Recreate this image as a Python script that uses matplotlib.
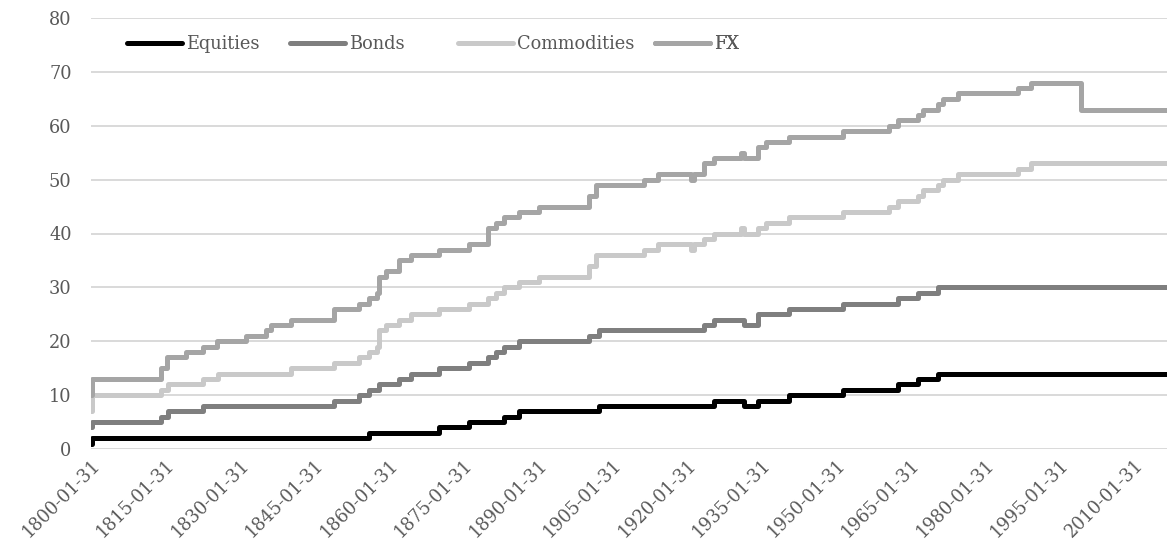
import matplotlib
matplotlib.use("Agg")
import matplotlib.pyplot as plt

plt.rcParams['font.family'] = ['DejaVu Serif']

# ---- data (fractional years of each change, value from that date on) ----
END_YEAR = 2016.9

equities_years = [1800.0, 1800.2, 1856.0, 1870.1, 1876.1, 1883.1, 1886.2, 1902.2,
                  1925.4, 1931.5, 1934.3, 1940.5, 1951.4, 1962.5, 1966.5, 1970.5]
equities_vals = [1, 2, 3, 4, 5, 6, 7, 8, 9, 8, 9, 10, 11, 12, 13, 14]

bonds_years = [1800.0, 1800.2, 1814.1, 1815.5, 1822.55, 1848.9, 1854.0, 1856.0, 1858.0,
               1862.0, 1864.4, 1870.1, 1876.1, 1879.9, 1881.5, 1883.1, 1886.2, 1900.3,
               1902.2, 1923.4, 1925.4, 1931.5, 1934.3, 1940.5, 1951.4, 1962.5, 1966.5,
               1970.5]
bonds_vals = [4, 5, 6, 7, 8, 9, 10, 11, 12, 13, 14, 15, 16, 17, 18, 19, 20, 21,
              22, 23, 24, 23, 25, 26, 27, 28, 29, 30]

commodities_years = [1800.0, 1800.2, 1814.1, 1815.5, 1822.55, 1825.6, 1840.3, 1848.9,
                     1854.0, 1856.0, 1857.5, 1858.0, 1859.4, 1862.0, 1864.4, 1870.1,
                     1876.1, 1879.9, 1881.5, 1883.1, 1886.2, 1890.2, 1900.3, 1901.7,
                     1911.3, 1914.2, 1920.8, 1921.4, 1923.4, 1925.4, 1930.9, 1931.5,
                     1934.3, 1935.9, 1940.5, 1951.4, 1960.7, 1962.5, 1966.5, 1967.5,
                     1970.5, 1971.5, 1974.6, 1986.6, 1989.3]
commodities_vals = [7, 10, 11, 12, 13, 14, 15, 16,
                    17, 18, 19, 22, 23, 24, 25, 26,
                    27, 28, 29, 30, 31, 32, 34, 36,
                    37, 38, 37, 38, 39, 40, 41, 40,
                    41, 42, 43, 44, 45, 46, 47, 48,
                    49, 50, 51, 52, 53]

fx_years = [1800.0, 1800.2, 1814.1, 1815.3, 1819.1, 1822.55, 1825.4, 1831.2, 1835.2,
            1836.2, 1840.3, 1848.9, 1854.0, 1856.0, 1857.5, 1858.0, 1859.4, 1862.0,
            1864.4, 1870.1, 1876.1, 1879.9, 1881.5, 1883.1, 1886.2, 1890.2, 1900.3,
            1901.7, 1911.3, 1914.2, 1920.8, 1921.4, 1923.4, 1925.4, 1930.9, 1931.5,
            1934.3, 1935.9, 1940.5, 1951.4, 1960.7, 1962.5, 1966.5, 1967.5, 1970.5,
            1971.5, 1974.6, 1986.6, 1989.3, 1999.3]
fx_vals = [10, 13, 15, 17, 18, 19, 20, 21, 22,
           23, 24, 26, 27, 28, 29, 32, 33, 35,
           36, 37, 38, 41, 42, 43, 44, 45, 47,
           49, 50, 51, 50, 51, 53, 54, 55, 54,
           56, 57, 58, 59, 60, 61, 62, 63, 64,
           65, 66, 67, 68, 63]

tick_years = list(range(1800, 2011, 15))
tick_labels = [f"{y}-01-31" for y in tick_years]

series = [
    ("Equities", equities_years, equities_vals, "#000000"),
    ("Bonds", bonds_years, bonds_vals, "#7f7f7f"),
    ("Commodities", commodities_years, commodities_vals, "#c9c9c9"),
    ("FX", fx_years, fx_vals, "#a5a5a5"),
]

# legend entry start positions (pixels from figure left)
legend_px = [127, 290, 458, 655]

fig = plt.figure(figsize=(11.67, 5.53), dpi=100)
ax = fig.add_axes([91 / 1167, 104 / 553, 1076 / 1167, 431 / 553])

handles = []
for name, xs, ys, col in series:
    xx = list(xs) + [END_YEAR]
    yy = list(ys) + [ys[-1]]
    ln, = ax.step(xx, yy, where='post', color=col, lw=3.6, label=name,
                  solid_joinstyle='round', solid_capstyle='round', zorder=3)
    handles.append(ln)

ax.set_xlim(1800.0, 2016.65)
ax.set_ylim(0, 80)
ax.set_yticks(range(0, 81, 10))
ax.yaxis.grid(True, color="#d9d9d9", lw=1.4, zorder=0)
ax.xaxis.grid(False)
for s in ax.spines.values():
    s.set_visible(False)

ax.set_xticks(tick_years)
ax.set_xticklabels(tick_labels, rotation=45, ha='right', va='top',
                   rotation_mode='anchor')
ax.tick_params(axis='both', length=0, labelcolor="#595959")
ax.tick_params(axis='y', pad=14, labelsize=12.8)
ax.tick_params(axis='x', pad=5, labelsize=12.8)

for h, (name, _, _, _), px in zip(handles, series, legend_px):
    leg = ax.legend([h], [name], loc='center left',
                    bbox_to_anchor=((px - 91) / 1076, (449 - 44) / 431),
                    frameon=False, fontsize=12.8, handlelength=3.1,
                    handletextpad=0.2, borderpad=0, borderaxespad=0)
    for t in leg.get_texts():
        t.set_color("#595959")
    for lh in leg.get_lines():
        lh.set_solid_capstyle('round')
        lh.set_linewidth(3.6)
    ax.add_artist(leg)

fig.savefig("out.png", dpi=100)
